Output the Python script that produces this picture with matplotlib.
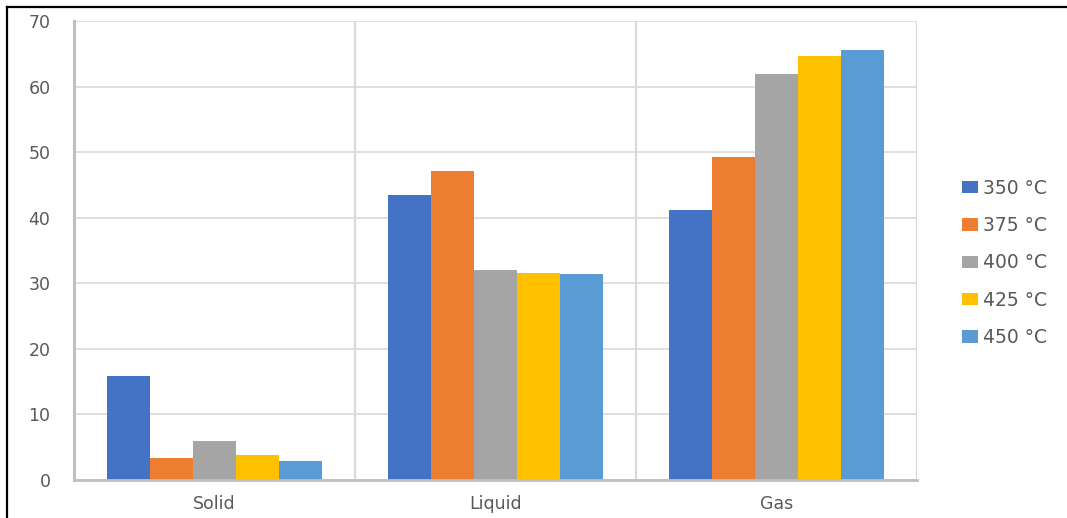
import matplotlib.pyplot as plt
import numpy as np
from matplotlib.lines import Line2D

plt.rcParams['font.family'] = ['DejaVu Sans']

phases = ["Solid", "Liquid", "Gas"]
temps = ["350 °C", "375 °C", "400 °C", "425 °C", "450 °C"]
t350 = [15.9, 43.5, 41.2]
t375 = [3.4, 47.2, 49.3]
t400 = [5.9, 32.1, 61.9]
t425 = [3.8, 31.5, 64.7]
t450 = [2.9, 31.4, 65.6]
series = [t350, t375, t400, t425, t450]
colors = ["#4472C4", "#ED7D31", "#A5A5A5", "#FFC000", "#5B9BD5"]

grey_txt = "#595959"
grid_c = "#d9d9d9"
axis_c = "#bfbfbf"

fig = plt.figure(figsize=(10.67, 5.18), dpi=100)
ax = fig.add_axes([74 / 1067, 38 / 518, 843 / 1067, 459 / 518])

x = np.arange(len(phases))
w = 0.153
for i, vals in enumerate(series):
    ax.bar(x + (i - 2) * w, vals, width=w, color=colors[i], label=temps[i], zorder=3)

ax.set_xlim(-0.5, 2.5)
ax.set_ylim(0, 70)
ax.set_yticks(range(0, 71, 10))
ax.set_xticks(x)
ax.set_xticklabels(phases)

ax.yaxis.grid(True, color=grid_c, linewidth=1.2, zorder=0)
for sep in [0.5, 1.5, 2.5]:
    ax.axvline(sep, color=grid_c, linewidth=1.6, zorder=1)

for s in ["top", "right"]:
    ax.spines[s].set_visible(False)
ax.spines["left"].set_color(axis_c)
ax.spines["left"].set_linewidth(2.2)
ax.spines["bottom"].set_color(axis_c)
ax.spines["bottom"].set_linewidth(2.0)
ax.spines["bottom"].set_zorder(4)

ax.tick_params(axis="y", length=0, pad=17, labelsize=12.5, labelcolor=grey_txt)
ax.tick_params(axis="x", length=0, pad=11, labelsize=12.5, labelcolor=grey_txt)

fig.legend(loc="center left", bbox_to_anchor=(962 / 1067, 255 / 518),
           frameon=False, fontsize=13.5, labelcolor=grey_txt,
           handlelength=0.85, handleheight=0.64, handletextpad=0.27,
           labelspacing=0.98, borderpad=0, borderaxespad=0)

# black frame on top and left edges of the screenshot
fig.add_artist(Line2D([7 / 1067, 1], [1 - 7 / 518, 1 - 7 / 518], color="black", linewidth=1.6))
fig.add_artist(Line2D([7 / 1067, 7 / 1067], [0, 1 - 7 / 518], color="black", linewidth=1.6))

fig.savefig("out.png", dpi=100)
